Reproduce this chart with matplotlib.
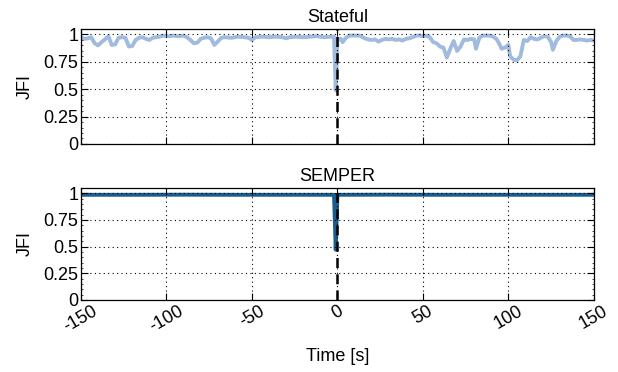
import matplotlib
matplotlib.use("Agg")
import matplotlib.pyplot as plt
from matplotlib.ticker import AutoMinorLocator

plt.rcParams["font.family"] = ["Liberation Sans", "DejaVu Sans"]

# Stateful JFI over time
stateful_t = [
    -150, -148, -146, -144, -142, -140, -138, -136, -134, -132, -130, -128,
    -126, -124, -122, -120, -118, -116, -114, -112, -110, -108, -106, -104,
    -102, -100, -98, -96, -94, -92, -90, -88, -86, -84, -82, -80, -78, -76,
    -74, -72, -70, -68, -66, -62, -58, -54, -52, -50, -48, -44, -40, -36,
    -32, -30, -28, -24, -20, -16, -12, -8, -4, -2, -1, 0, 2, 3, 5, 7, 10,
    13, 16, 18, 20, 22, 24, 26, 28, 30, 32, 34, 36, 38, 40, 42, 44, 46, 48,
    50, 52, 54, 56, 58, 60, 62, 64, 66, 68, 70, 72, 74, 76, 78, 80, 81, 83,
    85, 87, 89, 91, 93, 95, 96, 98, 100, 101, 103, 105, 107, 109, 111, 113,
    115, 117, 119, 121, 123, 125, 126, 128, 130, 132, 134, 136, 138, 140,
    142, 144, 146, 148, 150,
]
stateful_jfi = [
    0.975, 0.96, 0.965, 0.975, 0.92, 0.90, 0.93, 0.955, 0.985, 0.905, 0.91, 0.97,
    0.975, 0.97, 0.89, 0.895, 0.95, 0.97, 0.975, 0.96, 0.95, 0.97, 0.975, 0.98,
    0.99, 0.985, 0.985, 0.99, 0.985, 0.985, 0.99, 0.975, 0.95, 0.92, 0.925, 0.96, 0.97, 0.975,
    0.965, 0.905, 0.935, 0.97, 0.975, 0.97, 0.98, 0.975, 0.97, 0.95, 0.975, 0.98, 0.975, 0.98,
    0.975, 0.965, 0.975, 0.98, 0.975, 0.98, 0.985, 0.975, 0.98, 0.98, 0.49, 0.96, 0.96, 0.93, 0.97, 0.99, 0.99,
    0.99, 0.965, 0.955, 0.95, 0.955, 0.935, 0.95, 0.96, 0.955, 0.96, 0.95, 0.955, 0.945, 0.96, 0.965, 0.975, 0.99, 0.99,
    0.985, 0.99, 0.975, 0.93, 0.92, 0.89, 0.88, 0.79, 0.87, 0.94, 0.85, 0.89, 0.955, 0.95, 0.96, 0.955, 0.87, 0.97,
    0.99, 0.99, 0.99, 0.98, 0.96, 0.905, 0.87, 0.88, 0.905, 0.80, 0.77, 0.765, 0.80, 0.95, 0.94, 0.975,
    0.96, 0.955, 0.97, 0.985, 0.98, 0.93, 0.86, 0.94, 0.98, 0.99, 0.99, 0.985, 0.95, 0.95,
    0.955, 0.95, 0.945, 0.95, 0.945,
]

# SEMPER JFI over time
semper_t = [-150, -120, -90, -60, -30, -2, -1, 0, 30, 60, 90, 120, 150]
semper_jfi = [0.985, 0.985, 0.986, 0.985, 0.985, 0.985, 0.47, 0.985, 0.986, 0.985, 0.985, 0.985, 0.985]

event_t = 0
x_ticks = [-150, -100, -50, 0, 50, 100, 150]
y_ticks = [0, 0.25, 0.5, 0.75, 1]
y_labels = ["0", "0.25", "0.5", "0.75", "1"]

fs = 13

fig = plt.figure(figsize=(6.18, 3.72), dpi=100)
ax_top = fig.add_axes([0.131, 0.613, 0.830, 0.309])
ax_bot = fig.add_axes([0.131, 0.194, 0.830, 0.301])

panels = [
    (ax_top, "Stateful", stateful_t, stateful_jfi, "#a0bbde"),
    (ax_bot, "SEMPER", semper_t, semper_jfi, "#1c5c8c"),
]
for ax, title, t, jfi, color in panels:
    ax.plot(t, jfi, color=color, lw=2.8, solid_joinstyle="round", zorder=2)
    ax.axvline(event_t, color="black", lw=1.8, ls=(0, (4, 2.5)), zorder=4)
    ax.set_xlim(-150, 150)
    ax.set_ylim(0, 1.05)
    ax.set_xticks(x_ticks)
    ax.set_yticks(y_ticks)
    ax.set_yticklabels(y_labels)
    ax.yaxis.set_minor_locator(AutoMinorLocator(5))
    ax.tick_params(which="both", direction="in", top=True, right=True, labelsize=fs, pad=2)
    ax.tick_params(which="major", length=5, width=0.8)
    ax.tick_params(which="minor", length=1.2, width=0.5)
    ax.grid(True, which="major", color="black", ls=(0, (1, 3)), lw=0.8)
    ax.set_axisbelow(False)
    ax.set_title(title, fontsize=fs, pad=5)
    ax.set_ylabel("JFI", fontsize=fs, labelpad=7)
    for s in ax.spines.values():
        s.set_linewidth(0.9)

ax_top.tick_params(labelbottom=False)
ax_bot.set_xticklabels([str(v) for v in x_ticks], rotation=30, ha="center")
ax_bot.set_xlabel("Time [s]", fontsize=fs, labelpad=9)

fig.savefig("out.png", dpi=100)
